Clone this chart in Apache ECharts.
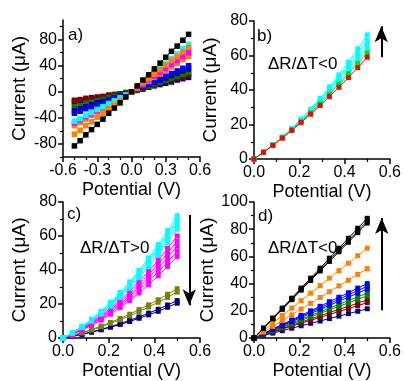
<!DOCTYPE html>
<html><head><meta charset="utf-8">
<script src="https://cdn.jsdelivr.net/npm/echarts@6/dist/echarts.min.js"></script>
<style>html,body{margin:0;padding:0;background:#fff}#c{width:404px;height:381px}</style>
</head><body><div id="c"></div>
<script>
// ---------- Panel a (I–V, -0.5..0.5 V) ----------
const xA = [-0.5,-0.45,-0.4,-0.35,-0.3,-0.25,-0.2,-0.15,-0.1,-0.05,0,0.05,0.1,0.15,0.2,0.25,0.3,0.35,0.4,0.45,0.5];
const aNavy2   = [-16,-14,-13,-11,-10,-8,-6,-5,-3,-2,0,2,4,7,9,11,13,15,18,20,22];
const aDarkRed = [-13,-12,-10,-9,-8,-7,-5,-4,-3,-1,0,3,5,8,10,13,16,18,21,23,26];
const aGreen   = [-23,-21,-18,-16,-14,-12,-9,-7,-5,-2,0,3,6,9,12,15,18,21,24,27,30];
const aNavy1   = [-29,-26,-23,-20,-17,-15,-12,-9,-6,-3,0,4,7,11,14,18,21,25,28,32,35];
const aBlue    = [-33,-30,-26,-23,-20,-17,-13,-10,-7,-3,0,4,8,12,16,20,24,28,32,36,40];
const aOrange2 = [-52,-47,-42,-36,-31,-26,-21,-16,-10,-5,0,5,11,16,22,27,32,38,43,49,54];
const aMagenta = [-48,-43,-38,-34,-29,-24,-19,-14,-10,-5,0,6,12,18,24,30,36,42,48,54,60];
const aCyan    = [-45,-41,-36,-32,-27,-23,-18,-14,-9,-5,0,7,15,22,29,37,44,51,58,66,73];
const aOrange1 = [-65,-59,-52,-46,-39,-33,-26,-20,-13,-7,0,7,14,20,27,34,41,48,54,61,68];
const aBlack   = [-83,-75,-66,-58,-50,-42,-33,-25,-17,-8,0,9,18,26,35,44,53,62,70,79,88];

// ---------- Panels b, c, d (0..0.5 V) ----------
const xP = [0,0.042,0.083,0.125,0.167,0.208,0.25,0.292,0.333,0.375,0.417,0.458,0.5];

const bRed   = [0,3.9,7.9,12.1,16.6,21.2,26,31,36.2,41.6,47.2,53,59];
const bGreen = [0,3.9,8.0,12.3,16.9,21.7,26.8,32.1,37.6,43.4,49.4,55.4,61.5];
const bCyan1 = [0,3.9,8.0,12.4,17.1,22.1,27.3,32.8,38.5,44.6,50.8,57.3,64];
const bCyan2 = [0,3.9,8.0,12.5,17.3,22.4,27.8,33.6,39.6,46,52.6,59.5,66.5];
const bCyan3 = [0,3.9,8.1,12.6,17.5,22.8,28.4,34.4,40.7,47.4,54.3,61.6,69];
const bCyan4 = [0,3.9,8.1,12.8,17.8,23.2,29,35.2,41.8,48.8,56.1,63.9,72];

const cNavy1  = [0,1.1,2.3,3.6,5.1,6.7,8.5,10.4,12.4,14.6,16.9,19.4,22];
const cNavy2  = [0,1.0,2.1,3.4,4.8,6.3,7.9,9.7,11.6,13.6,15.7,18.1,20.5];
const cOlive1 = [0,1.5,3.2,5,7,9.2,11.5,14,16.7,19.5,22.5,25.7,29];
const cOlive2 = [0,1.4,3.0,4.7,6.5,8.6,10.7,13,15.5,18.2,21,23.9,27];
const cMag1 = [0,2.7,5.8,9.3,13.2,17.5,22.3,27.5,33.2,39.3,45.8,52.7,60];
const cMag2 = [0,2.5,5.5,8.8,12.5,16.6,21.2,26.1,31.5,37.3,43.5,50,57];
const cMag3 = [0,2.4,5.2,8.3,11.9,15.8,20.1,24.8,29.9,35.3,41.2,47.4,54];
const cMag4 = [0,2.3,4.9,7.9,11.2,14.9,19,23.4,28.2,33.4,38.9,44.8,51];
const cMag5 = [0,2.1,4.6,7.4,10.5,14,17.9,22,26.5,31.4,36.6,42.1,48];
const cCyan1 = [0,2.8,6.1,9.9,14,18.7,23.8,29.3,35.4,41.9,48.8,56.2,64];
const cCyan2 = [0,2.9,6.3,10.2,14.5,19.3,24.6,30.3,36.5,43.2,50.3,58,66];
const cCyan3 = [0,3.0,6.5,10.5,14.9,19.8,25.3,31.2,37.6,44.5,51.8,59.7,68];
const cCyan4 = [0,3.1,6.7,10.8,15.4,20.4,26,32.1,38.7,45.8,53.3,61.4,70];
const cCyan5 = [0,3.2,6.9,11.1,15.8,21,26.8,33,39.8,47.1,54.9,63.2,72];

const dNavy    = [0,1.8,3.6,5.4,7.2,9,10.8,12.5,14.3,16.1,17.9,19.7,21.5];
const dDarkRed1= [0,2.2,4.3,6.5,8.7,10.8,13,15.2,17.3,19.5,21.7,23.8,26];
const dDarkRed2= [0,2.3,4.7,7,9.3,11.7,14,16.3,18.7,21,23.3,25.7,28];
const dGreen1  = [0,2.6,5.2,7.8,10.3,12.9,15.5,18.1,20.7,23.3,25.8,28.4,31];
const dGreen2  = [0,2.8,5.5,8.3,11,13.8,16.5,19.3,22,24.8,27.5,30.3,33];
const dBlue1   = [0,3,6,9,12,15,18,21,24,27,30,33,36];
const dBlue2   = [0,3.2,6.3,9.5,12.7,15.8,19,22.2,25.3,28.5,31.7,34.8,38];
const dBlue3   = [0,3.3,6.7,10,13.3,16.7,20,23.3,26.7,30,33.3,36.7,40];
const dOrange2 = [0,4.3,8.5,12.8,17,21.3,25.5,29.8,34,38.3,42.5,46.8,51];
const dOrange1 = [0,5.5,11,16.5,22,27.5,33,38.5,44,49.5,55,60.5,66];
const dBlack3  = [0,7.0,14.1,21.1,28.2,35.2,42.3,49.3,56.3,63.4,70.4,77.5,84.5];
const dBlack2  = [0,7.2,14.3,21.5,28.7,35.8,43,50.2,57.3,64.5,71.7,78.8,86];
const dBlack1  = [0,7.3,14.7,22,29.3,36.7,44,51.3,58.7,66,73.3,80.7,88];

// ---------- Tick labels ----------
const aYLabels = [-80,-40,0,40,80];
const aYMinor  = [-100,-60,-20,20,60,100];

const C = {black:'#000000',orange:'#FF8000',cyan:'#00FFFF',magenta:'#FF00FF',blue:'#0000FF',
  navy:'#000080',green:'#008000',darkred:'#800000',olive:'#808000',red:'#FF0000',lime:'#00E000'};
const FF = '"Liberation Sans", Arial, sans-serif';

function ser(g, yIdx, xs, ys, color, extra) {
  return Object.assign({
    type:'line', xAxisIndex:g, yAxisIndex:yIdx,
    data: xs.map((x,i)=>[x, ys[i]]),
    symbol:'rect', symbolSize: g===0 ? 5.5 : 5, showSymbol:true,
    lineStyle:{color:color, width:1}, itemStyle:{color:color},
    emphasis:{disabled:true}, animation:false, clip:false
  }, extra||{});
}
function arrow(x, y0, y1) {
  return {markLine:{silent:true, animation:false, symbol:['none','arrow'], symbolSize:[10,16],
    label:{show:false}, lineStyle:{color:'#000', width:2, type:'solid'},
    data:[[{coord:[x,y0]},{coord:[x,y1]}]]}};
}
const fmt1 = v => (Math.abs(v)<1e-9?0:v).toFixed(1);
function xAx(g, min, max, interval, split, gap) {
  return {type:'value', gridIndex:g, min, max, interval, position:'bottom',
    axisLine:{show:true, onZero:false, lineStyle:{color:'#000', width:1.5}},
    axisTick:{show:true, inside:false, length:5, lineStyle:{color:'#000', width:1.5}},
    minorTick:{show:true, splitNumber:split, length:3, lineStyle:{color:'#000', width:1.2}},
    splitLine:{show:false}, minorSplitLine:{show:false},
    axisLabel:{color:'#000', fontSize:16, fontFamily:FF, margin:6, formatter:fmt1},
    name:'Potential (V)', nameLocation:'middle', nameGap:gap,
    nameTextStyle:{color:'#000', fontSize:18, fontFamily:FF}};
}
function yAx(g, min, max, interval, gap) {
  return {type:'value', gridIndex:g, min, max, interval, position:'left',
    axisLine:{show:true, onZero:false, lineStyle:{color:'#000', width:1.5}},
    axisTick:{show:true, inside:false, length:5, lineStyle:{color:'#000', width:1.5}},
    minorTick:{show:true, splitNumber:2, length:3, lineStyle:{color:'#000', width:1.2}},
    splitLine:{show:false}, minorSplitLine:{show:false},
    axisLabel:{color:'#000', fontSize:16, fontFamily:FF, margin:6},
    name:'Current (\u03bcA)', nameLocation:'middle', nameGap:gap, nameRotate:90,
    nameTextStyle:{color:'#000', fontSize:19, fontFamily:FF}};
}

const yA = yAx(0, -100, 110, null, 34);
delete yA.interval;
yA.minorTick = {show:false};
yA.axisLabel.customValues = aYLabels;
yA.axisTick.customValues = aYLabels;
const yAMinor = {type:'value', gridIndex:0, min:-100, max:110, position:'left',
  axisLine:{show:false, onZero:false}, axisLabel:{show:false}, splitLine:{show:false},
  axisTick:{show:true, inside:false, length:3, customValues:aYMinor, lineStyle:{color:'#000', width:1.2}}};

const txt = (t, x, y) => ({type:'text', x, y, silent:true,
  style:{text:t, font:'17px ' + FF, fill:'#000', align:'left', verticalAlign:'middle'}});

const option = {
  animation:false, backgroundColor:'#fff',
  grid:[
    {left:63, top:20, width:137, height:137},
    {left:254, top:21, width:136, height:138},
    {left:63, top:202, width:137, height:137},
    {left:254, top:202, width:136, height:137}
  ],
  xAxis:[
    xAx(0, -0.6, 0.6, 0.3, 3, 24),
    xAx(1, 0, 0.6, 0.2, 2, 24),
    xAx(2, 0, 0.6, 0.2, 2, 24),
    xAx(3, 0, 0.6, 0.2, 2, 24)
  ],
  yAxis:[ yA, yAx(1,0,80,20,34), yAx(2,0,80,20,34), yAx(3,0,100,20,34), yAMinor ],
  series:[
    ser(0,0,xA,aNavy2,C.navy), ser(0,0,xA,aDarkRed,C.darkred), ser(0,0,xA,aGreen,C.green),
    ser(0,0,xA,aNavy1,C.navy), ser(0,0,xA,aBlue,C.blue), ser(0,0,xA,aOrange2,C.orange),
    ser(0,0,xA,aMagenta,C.magenta), ser(0,0,xA,aCyan,C.cyan), ser(0,0,xA,aOrange1,C.orange),
    ser(0,0,xA,aBlack,C.black),

    ser(1,1,xP,bCyan4,C.cyan), ser(1,1,xP,bCyan3,C.cyan), ser(1,1,xP,bCyan2,C.cyan),
    ser(1,1,xP,bCyan1,C.cyan), ser(1,1,xP,bGreen,C.lime),
    ser(1,1,xP,bRed,C.red, arrow(0.562, 59, 77)),

    ser(2,2,xP,cNavy2,C.navy), ser(2,2,xP,cNavy1,C.navy),
    ser(2,2,xP,cOlive2,C.olive), ser(2,2,xP,cOlive1,C.olive),
    ser(2,2,xP,cMag5,C.magenta), ser(2,2,xP,cMag4,C.magenta), ser(2,2,xP,cMag3,C.magenta),
    ser(2,2,xP,cMag2,C.magenta), ser(2,2,xP,cMag1,C.magenta),
    ser(2,2,xP,cCyan1,C.cyan), ser(2,2,xP,cCyan2,C.cyan), ser(2,2,xP,cCyan3,C.cyan),
    ser(2,2,xP,cCyan4,C.cyan), ser(2,2,xP,cCyan5,C.cyan, arrow(0.553, 72.4, 19.3)),

    ser(3,3,xP,dNavy,C.navy), ser(3,3,xP,dDarkRed1,C.darkred), ser(3,3,xP,dDarkRed2,C.darkred),
    ser(3,3,xP,dGreen1,C.green), ser(3,3,xP,dGreen2,C.green),
    ser(3,3,xP,dBlue1,C.blue), ser(3,3,xP,dBlue2,C.blue), ser(3,3,xP,dBlue3,C.blue),
    ser(3,3,xP,dOrange2,C.orange), ser(3,3,xP,dOrange1,C.orange),
    ser(3,3,xP,dBlack3,C.black), ser(3,3,xP,dBlack2,C.black),
    ser(3,3,xP,dBlack1,C.black, arrow(0.564, 20.4, 88.3))
  ],
  graphic:[
    txt('a)', 68, 35), txt('b)', 257, 36), txt('c)', 67, 214), txt('d)', 258, 216),
    txt('\u0394R/\u0394T<0', 268, 64), txt('\u0394R/\u0394T>0', 80, 248), txt('\u0394R/\u0394T<0', 268, 248)
  ]
};
const chart = echarts.init(document.getElementById('c'), null, {renderer:'canvas'});
chart.setOption(option);
</script></body></html>
